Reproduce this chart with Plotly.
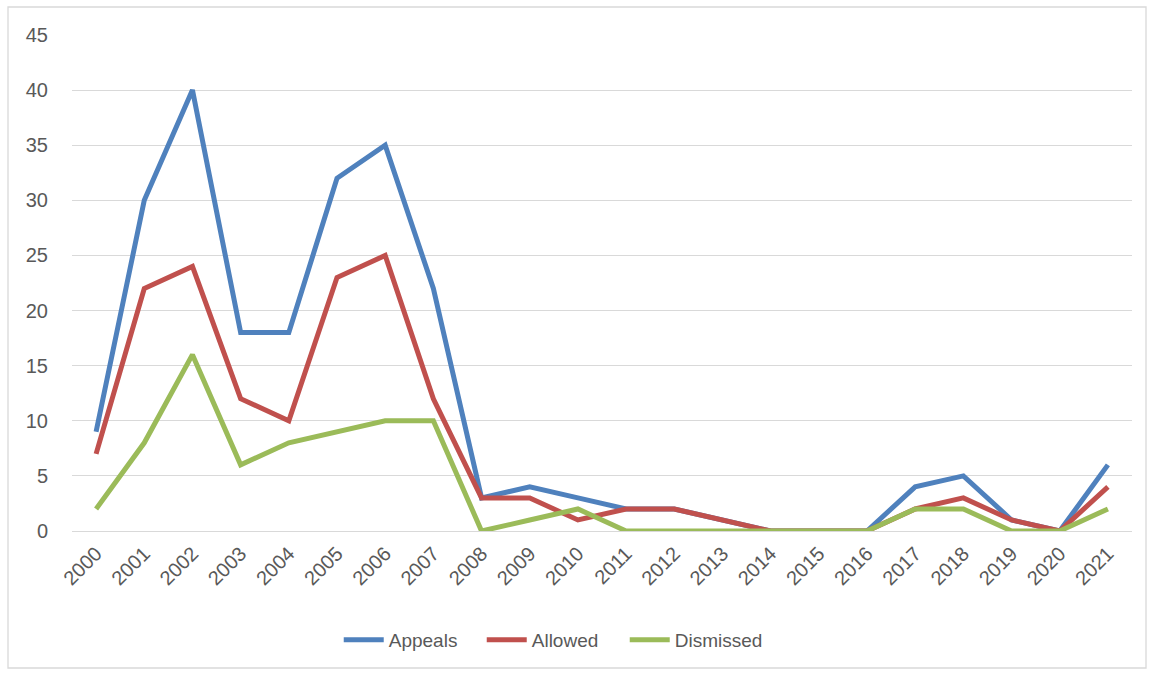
import plotly.graph_objects as go

years = [str(y) for y in range(2000, 2022)]
appeals = [9, 30, 40, 18, 18, 32, 35, 22, 3, 4, 3, 2, 2, 1, 0, 0, 0, 4, 5, 1, 0, 6]
allowed = [7, 22, 24, 12, 10, 23, 25, 12, 3, 3, 1, 2, 2, 1, 0, 0, 0, 2, 3, 1, 0, 4]
dismissed = [2, 8, 16, 6, 8, 9, 10, 10, 0, 1, 2, 0, 0, 0, 0, 0, 0, 2, 2, 0, 0, 2]
y_ticks = [0, 5, 10, 15, 20, 25, 30, 35, 40, 45]

series = [("Appeals", appeals, "#4F81BD"),
          ("Allowed", allowed, "#C0504D"),
          ("Dismissed", dismissed, "#9BBB59")]

fig = go.Figure()
for name, vals, col in series:
    fig.add_trace(go.Scatter(x=years, y=vals, name=name, mode="lines",
                             line=dict(color=col, width=5)))

font = "Liberation Sans"
L, R, T, B = 72, 21, 35, 144
W, H = 1153, 675
pw, ph = W - L - R, H - T - B

fig.update_layout(
    width=W, height=H,
    margin=dict(l=L, r=R, t=T, b=B, autoexpand=False),
    paper_bgcolor="white", plot_bgcolor="white",
    font=dict(family=font, size=20, color="#595959"),
    showlegend=True,
    legend=dict(orientation="h", x=0.454, xanchor="center",
                y=(T + ph - 640) / ph, yanchor="middle",
                font=dict(size=19, color="#595959"),
                entrywidth=88, entrywidthmode="pixels", itemwidth=40),
    xaxis=dict(type="category", range=[-0.5, 21.5], tickangle=-45,
               showgrid=False, showline=False, ticks="", ticklabelstandoff=6,
               automargin=False, tickfont=dict(size=20, color="#595959")),
    yaxis=dict(range=[0, 45], tickvals=y_ticks, showgrid=True,
               gridcolor="#D9D9D9", gridwidth=1.3, zeroline=True,
               zerolinecolor="#D9D9D9", zerolinewidth=1.3,
               showline=False, ticks="", ticklabelstandoff=23,
               automargin=False, tickfont=dict(size=20, color="#595959")),
)

# outer chart border
fig.add_shape(type="rect", xref="paper", yref="paper",
              x0=(8 - L) / pw, x1=(1146 - L) / pw,
              y0=(T + ph - 668) / ph, y1=(T + ph - 7) / ph,
              line=dict(color="#D9D9D9", width=1.3), layer="below")

fig.write_html("out.html")
